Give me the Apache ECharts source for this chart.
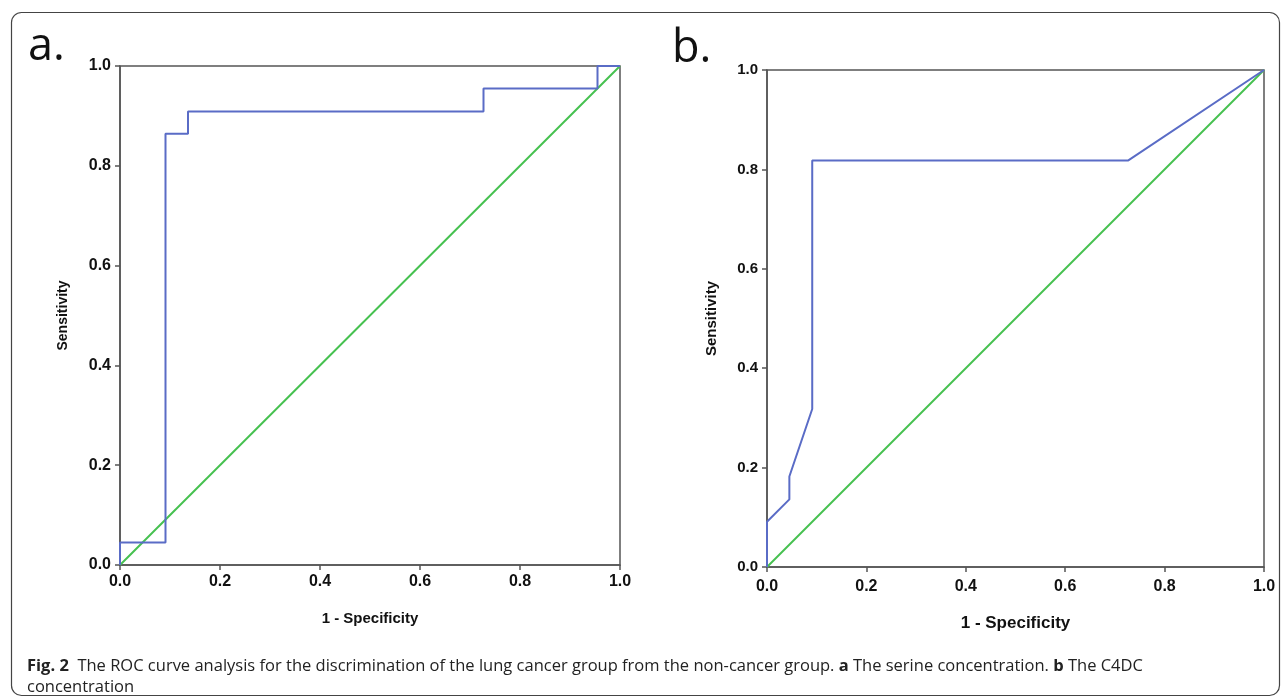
<!DOCTYPE html>
<html><head><meta charset="utf-8">
<script src="https://cdn.jsdelivr.net/npm/echarts@6/dist/echarts.min.js"></script>
<style>html,body{margin:0;padding:0;background:#fff}#c{width:1284px;height:699px}</style>
</head><body><div id="c"></div>
<script>
// Panel a: serine concentration ROC
const aFpr = [0, 0, 0.091, 0.091, 0.136, 0.136, 0.727, 0.727, 0.955, 0.955, 1];
const aTpr = [0, 0.045, 0.045, 0.864, 0.864, 0.909, 0.909, 0.955, 0.955, 1, 1];
// Panel b: C4DC concentration ROC
const bFpr = [0, 0, 0.045, 0.045, 0.091, 0.091, 0.727, 1];
const bTpr = [0, 0.091, 0.136, 0.182, 0.318, 0.818, 0.818, 1];
// Reference diagonal
const refX = [0, 1];
const refY = [0, 1];
const ticks = [0, 0.2, 0.4, 0.6, 0.8, 1.0];

const pairs = (xs, ys) => xs.map((x, i) => [x, ys[i]]);
const BLUE = '#5a6cc6', GREEN = '#46c150', AX = '#555';
const tickFmt = v => v.toFixed(1);

function xAx(idx, fs, nameFs, gap, margin) {
  return {
    gridIndex: idx, type: 'value', min: 0, max: 1, interval: 0.2,
    name: '1 - Specificity', nameLocation: 'middle', nameGap: gap,
    nameTextStyle: { fontFamily: 'Liberation Sans', fontWeight: 'bold', fontSize: nameFs, color: '#111' },
    axisLine: { show: true, lineStyle: { color: AX, width: 1.5 } },
    axisTick: { show: true, length: 5, lineStyle: { color: AX, width: 1.5 } },
    axisLabel: { formatter: tickFmt, fontFamily: 'Liberation Sans', fontWeight: 'bold', fontSize: fs, color: '#111', margin: margin },
    splitLine: { show: false }
  };
}
function yAx(idx, fs, nameFs, gap) {
  return {
    gridIndex: idx, type: 'value', min: 0, max: 1, interval: 0.2,
    name: 'Sensitivity', nameLocation: 'middle', nameGap: gap,
    nameTextStyle: { fontFamily: 'Liberation Sans', fontWeight: 'bold', fontSize: nameFs, color: '#111' },
    axisLine: { show: true, lineStyle: { color: AX, width: 1.5 } },
    axisTick: { show: true, length: 5, lineStyle: { color: AX, width: 1.5 } },
    axisLabel: { formatter: tickFmt, fontFamily: 'Liberation Sans', fontWeight: 'bold', fontSize: fs, color: '#111', margin: 9 },
    splitLine: { show: false }
  };
}
function line(xi, data, color) {
  return { type: 'line', xAxisIndex: xi, yAxisIndex: xi, data: data, symbol: 'none',
    lineStyle: { color: color, width: 2 }, animation: false, silent: true };
}

const chart = echarts.init(document.getElementById('c'), null, { renderer: 'canvas' });
chart.setOption({
  animation: false,
  grid: [
    { left: 120, top: 66, width: 500, height: 499, show: true, borderColor: AX, borderWidth: 1.5, backgroundColor: 'transparent' },
    { left: 767, top: 70, width: 497, height: 497, show: true, borderColor: AX, borderWidth: 1.5, backgroundColor: 'transparent' }
  ],
  xAxis: [xAx(0, 16, 15, 46, 9), xAx(1, 16, 17, 48, 12)],
  yAxis: [yAx(0, 16, 14, 50), yAx(1, 15, 15, 48)],
  series: [
    line(0, pairs(refX, refY), GREEN),
    line(0, pairs(aFpr, aTpr), BLUE),
    line(1, pairs(refX, refY), GREEN),
    line(1, pairs(bFpr, bTpr), BLUE)
  ],
  title: [{
    left: 22, top: 651,
    text: '{b|Fig. 2}  The ROC curve analysis for the discrimination of the lung cancer group from the non-cancer group. {b|a} The serine concentration. {b|b} The C4DC\nconcentration',
    textStyle: { fontFamily: 'Open Sans', fontSize: 16.5, fontWeight: 'normal', color: '#222', lineHeight: 21,
      rich: { b: { fontFamily: 'Open Sans', fontWeight: 'bold', fontSize: 16.5, color: '#222' } } }
  }],
  graphic: [
    { type: 'rect', left: 9, top: 10, shape: { width: 1268, height: 683, r: 10 },
      style: { fill: 'none', stroke: '#444', lineWidth: 1.2 }, silent: true, z: -1 },
    { type: 'text', left: 28, top: 25, style: { text: 'a.', fontFamily: 'Open Sans', fontSize: 45, fill: '#111' } },
    { type: 'text', left: 672, top: 27, style: { text: 'b.', fontFamily: 'Open Sans', fontSize: 45, fill: '#111' } }
  ]
});
</script></body></html>
